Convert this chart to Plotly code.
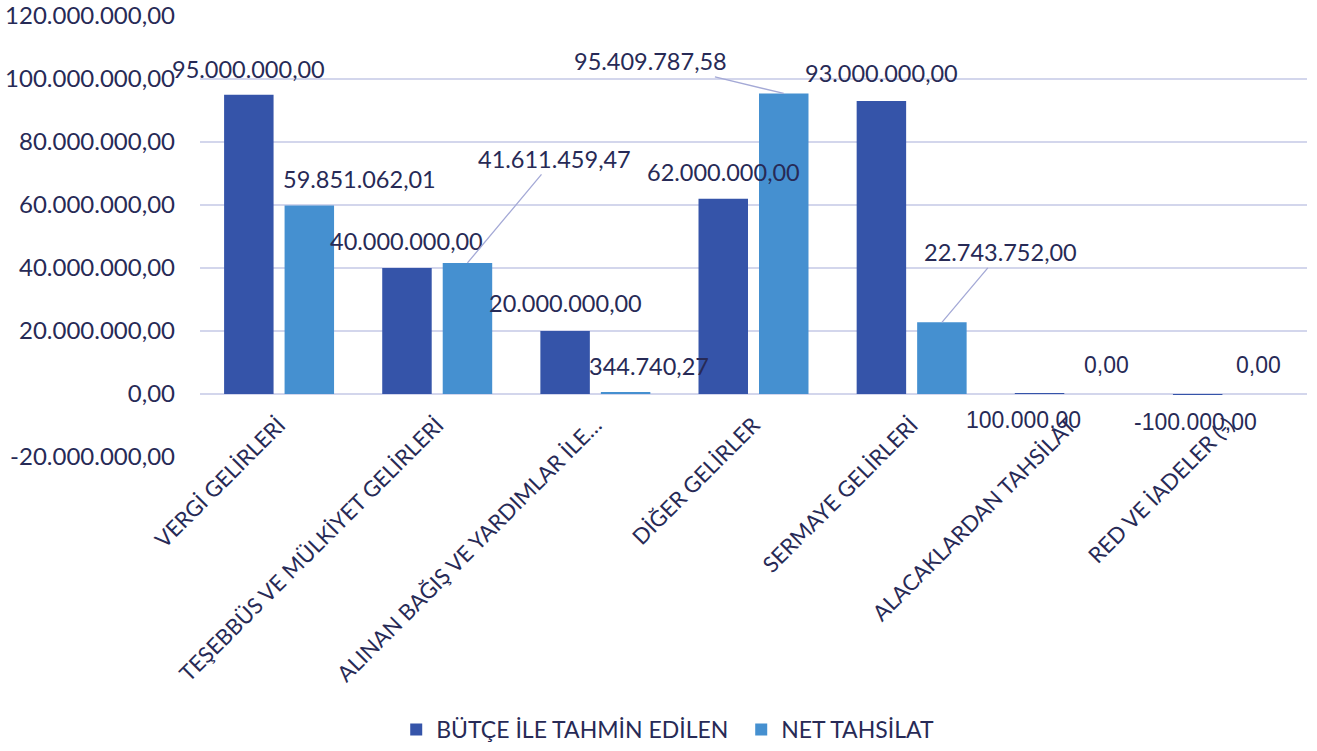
import plotly.graph_objects as go

categories = ["VERGİ GELİRLERİ", "TEŞEBBÜS VE MÜLKİYET GELİRLERİ", "ALINAN BAĞIŞ VE YARDIMLAR İLE…",
              "DİĞER GELİRLER", "SERMAYE GELİRLERİ", "ALACAKLARDAN TAHSİLAT", "RED VE İADELER (-)"]
butce = [95000000.00, 40000000.00, 20000000.00, 62000000.00, 93000000.00, 100000.00, -100000.00]
net = [59851062.01, 41611459.47, 344740.27, 95409787.58, 22743752.00, 0.00, 0.00]
series_names = ["BÜTÇE İLE TAHMİN EDİLEN", "NET TAHSİLAT"]
ytick_vals = [-20000000, 0, 20000000, 40000000, 60000000, 80000000, 100000000, 120000000]

TXT = "#272a56"
FONT = "Lato"
FONT2 = "Liberation Sans"

def fmt(v):
    s = f"{abs(v):,.2f}".replace(",", "X").replace(".", ",").replace("X", ".")
    return ("-" if v < 0 else "") + s

fig = go.Figure()
fig.add_trace(go.Bar(name=series_names[0], x=categories, y=butce, marker_color="#3554a9",
                     marker_line_width=0, legendwidth=300))
fig.add_trace(go.Bar(name=series_names[1], x=categories, y=net, marker_color="#4590d0",
                     marker_line_width=0))

# label offsets (pixels): (dx, dy-up, leader, alt-font)
off_b = [(0, 26, False, 0), (0, 27, False, 0), (0, 28, False, 0), (0, 27, False, 0), (0, 28, False, 0),
         (-16, -26, False, 1), (-2, -28, False, 1)]
off_n = [(50, 26, False, 0), (87, 104, True, 0), (23.5, 27, False, 0), (-133.5, 32, True, 0),
         (59, 70, True, 0), (6, 29, False, 1), (0, 29, False, 1)]

annotations = []
for series, offs, shift in ((butce, off_b, -30.25), (net, off_n, 30.25)):
    for c, v, (dx, dy, lead, alt) in zip(categories, series, offs):
        a = dict(x=c, y=v, xref="x", yref="y", text=fmt(v),
                 font=dict(family=FONT2 if alt else FONT, size=23 if alt else 23.5, color=TXT))
        if lead:
            a.update(showarrow=True, arrowhead=0, arrowwidth=1.3, arrowcolor="#a4a9d6",
                     ax=dx, ay=-dy, xshift=shift, standoff=0, startstandoff=0)
        else:
            a.update(showarrow=False, xshift=shift + dx, yshift=dy, yanchor="middle", xanchor="center")
        annotations.append(a)

fig.update_layout(
    width=1317, height=751,
    margin=dict(l=200, r=10, t=16, b=294),
    paper_bgcolor="white", plot_bgcolor="white",
    barmode="group", bargap=0.235, bargroupgap=0.182,
    font=dict(family=FONT, size=22, color=TXT),
    annotations=annotations,
    legend=dict(orientation="h", xref="container", yref="container", x=0.507, y=-0.008,
                xanchor="center", yanchor="bottom", font=dict(family=FONT, size=23, color=TXT),
                itemwidth=30, tracegroupgap=0, traceorder="normal"),
    showlegend=True,
)
fig.update_xaxes(range=[-0.5, len(categories) - 0.5], tickangle=-45, showgrid=False, showline=False,
                 ticks="", automargin=False, ticklabelstandoff=-50,
                 tickfont=dict(family=FONT, size=22, color=TXT))
fig.update_yaxes(range=[-20000000, 120000000], tickvals=ytick_vals, automargin=False,
                 ticktext=[fmt(v) for v in ytick_vals], showgrid=True, gridcolor="#d3d6ec",
                 gridwidth=1.5, zeroline=True, zerolinecolor="#d3d6ec", zerolinewidth=1.5,
                 ticks="", ticklen=0, ticklabelstandoff=24, tickfont=dict(family=FONT, size=24, color=TXT))

fig.write_html("out.html", config={"displayModeBar": False},
               post_script="document.body.style.margin='0';")
